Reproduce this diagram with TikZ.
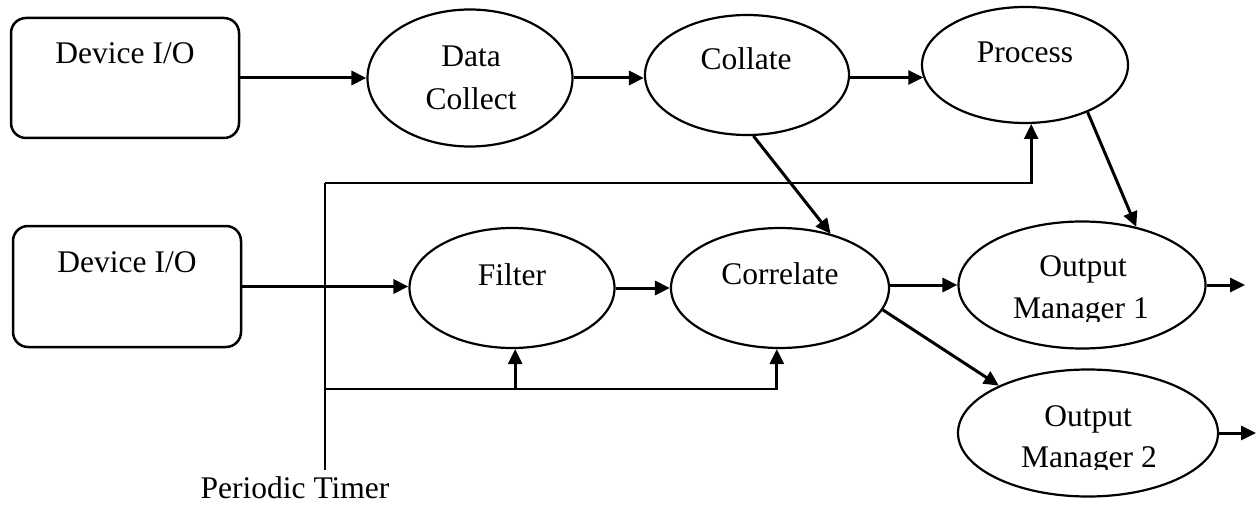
\documentclass[tikz,border=0pt]{standalone}
\usepackage{fontspec}
\setmainfont{Liberation Serif}
\usetikzlibrary{shapes.geometric,arrows.meta}

\begin{document}
\begin{tikzpicture}[x=1pt,y=-1pt,
  font=\fontsize{31.5}{36}\selectfont,
  devbox/.style={draw,line width=2.5pt,rounded corners=15pt,
    minimum width=228pt,minimum height=120pt,inner sep=0pt},
  bubble/.style={draw,ellipse,line width=2.2pt,inner sep=0pt},
  lbl/.style={anchor=base,inner sep=0pt},
  flow/.style={line width=3pt,-{Triangle[length=15pt,width=14pt]}},
  wire/.style={line width=2.7pt}]

\useasboundingbox (0,0) rectangle (1258,508);

% input devices
\node[devbox] (dev1) at (125,78) {};
\node[devbox,minimum height=121pt] (dev2) at (127,286.5) {};

% processing stages
\node[bubble,minimum width=205pt,minimum height=137pt] (dc) at (470,78) {};
\node[bubble,minimum width=204pt,minimum height=120pt] (col) at (747,75) {};
\node[bubble,minimum width=206pt,minimum height=116pt] (pr) at (1025,65) {};
\node[bubble,minimum width=205pt,minimum height=120pt] (filt) at (512,288) {};
\node[bubble,minimum width=218pt,minimum height=120pt] (corr) at (780,288) {};
\node[bubble,minimum width=247pt,minimum height=127pt] (om1) at (1082,285) {};
\node[bubble,minimum width=260pt,minimum height=127pt] (om2) at (1088,433) {};

% labels
\node[lbl] (t1) at (125,64) {Device I/O};
\node[lbl] (t2) at (127,272) {Device I/O};
\node[lbl] (tdc1) at (471,67) {Data};
\node[lbl] (tdc2) at (471,110) {Collect};
\node[lbl] (tcol) at (746,70) {Collate};
\node[lbl] (tpr) at (1025,63) {Process};
\node[lbl] (tfilt) at (512,285) {Filter};
\node[lbl] (tcorr) at (780,284) {Correlate};
\node[lbl] (tom1a) at (1083,276) {Output};
\begin{scope}
  \clip (990,290) rectangle (1180,321);
  \node[lbl] (tom1b) at (1081,318) {Manager 1};
\end{scope}
\node[lbl] (tom2a) at (1088,426) {Output};
\begin{scope}
  \clip (990,436) rectangle (1190,469);
  \node[lbl] (tom2b) at (1089,467) {Manager 2};
\end{scope}
\node[lbl] (ptimer) at (295,498) {Periodic Timer};

% data flow
\draw[flow] (dev1) -- (dc);
\draw[flow] (dc.east) -- (col.west |- dc.east);
\draw[flow] (col.east |- pr.187) -- (pr.187);
\draw[flow] (dev2.east) -- (filt.west |- dev2.east);
\draw[flow] (filt) -- (corr);
\draw[flow] (corr.east |- om1.west) -- (om1.west);
\draw[flow] (col.-84) -- (corr.47);
\draw[flow] (pr.-37) -- (om1.47);
\draw[flow] (corr.-12) -- (om2.152);
\coordinate (o1) at (1245,285);
\coordinate (o2) at (1256,433);
\draw[flow] (om1.east) -- (o1);
\draw[flow] (om2.east) -- (o2);

% periodic timer distribution
\coordinate (tbot) at (325,470);
\coordinate (tup) at (325,183);
\coordinate (tlow) at (325,389);
\draw[wire] (tbot) -- (tup);
\draw[flow,line width=2.7pt] (tup) -| (pr.-84);
\draw[flow,line width=2.7pt] (tlow) -| (corr.-93);
\draw[flow,line width=2.7pt] (filt.-87 |- tlow) -- (filt.-87);
\end{tikzpicture}
\end{document}
